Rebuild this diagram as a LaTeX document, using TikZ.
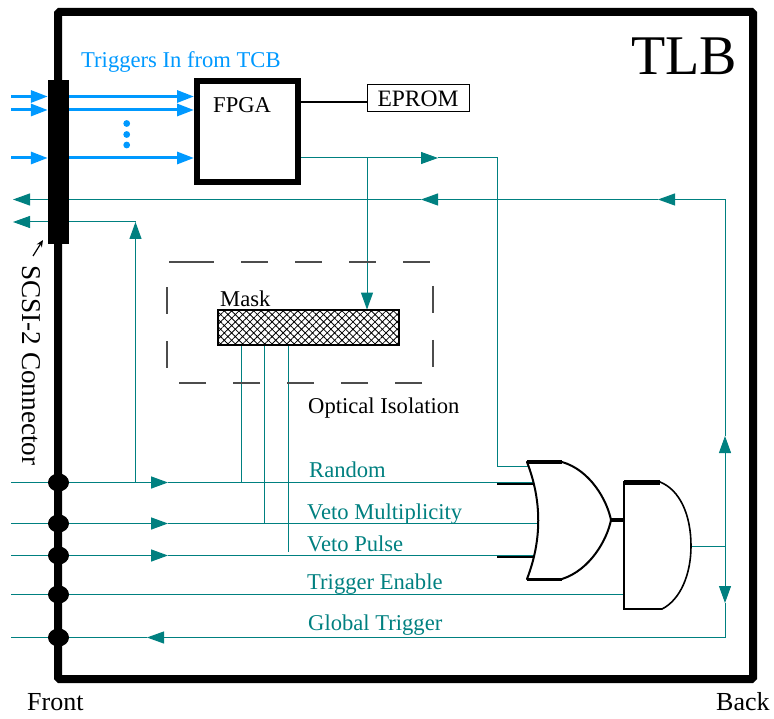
\documentclass[tikz,border=0pt]{standalone}
\usepackage{fontspec}
\setmainfont{Liberation Serif}
\usetikzlibrary{arrows.meta,patterns.meta,shapes.geometric,backgrounds}
\definecolor{sigteal}{HTML}{008080}
\definecolor{trigblue}{HTML}{0099FF}
\tikzset{
  wire/.style={sigteal,line width=1pt},
  wirefat/.style={sigteal,line width=1.5pt},
  tealtip/.style={-{Triangle[length=17pt,width=12pt]}},
  trig/.style={trigblue,line width=3pt,-{Triangle[length=17pt,width=12pt]}},
  lbl/.style={anchor=west,inner sep=0pt,font=\fontsize{22.6}{24}\selectfont},
  siglbl/.style={lbl,text=sigteal},
  jdot/.style={ellipse,fill=black,inner sep=0pt,minimum width=21pt,minimum height=18pt},
  gateline/.style={line width=2pt,fill=white,line join=round}
}
\begin{document}
\begin{tikzpicture}[x=1pt,y=-1pt]
  \useasboundingbox (0,0) rectangle (774,719);
  \node[draw,line width=8pt,rounded corners=1.5pt,minimum width=695pt,minimum height=667pt] (tlb) at (405.5,345.5) {};
  \node[fill=black,inner sep=0pt,minimum width=21pt,minimum height=164pt] (bar) at (58.5,162) {};
  \foreach \name/\yy in {random/482.5,multi/523.5,pulse/555.5,enable/594.5,global/637.5}{
    \node[jdot] (\name) at (58.5,\yy) {};
    \coordinate (\name-in) at (11,\yy);
  }
  \node[draw,line width=6pt,minimum size=101pt] (fpga) at (247.5,131.5) {};
  \node[draw,line width=1pt,inner sep=0pt,minimum width=102pt,minimum height=27pt,font=\fontsize{23.5}{24}\selectfont] (eprom) at (418,98.5) {EPROM};
  \node[draw,line width=1.2pt,minimum width=181pt,minimum height=35pt,
    pattern={Hatch[angle=45,distance=5.2pt,line width=0.8pt]}] (mask) at (308.5,327.5) {};

  \foreach \yy in {96.5,110,158}{
    \draw[trig] (11,\yy) -- (bar.west |- 0,\yy);
    \draw[trig] (bar.east |- 0,\yy) -- (fpga.west |- 0,\yy);
  }
  \foreach \yy in {123.5,134.5,145}{
    \fill[trigblue] (126.7,\yy) circle (3.4pt);
  }
  \coordinate (eprom-in) at (367,102);
  \draw[line width=1.2pt] (fpga.east |- eprom-in) -- (eprom-in);

  \draw[line width=1.2pt,black!70,dash pattern=on 27pt off 27pt] (187,262) -- (433,262) -- (433,383) -- (167,383) -- (167,262) -- (187,262);

  \coordinate (or-a) at (527,462);
  \coordinate (or-b) at (562,462);
  \coordinate (or-out) at (611,520);
  \coordinate (or-c) at (562,579);
  \coordinate (or-d) at (527,579);
  \coordinate (and-a) at (624,482);
  \coordinate (and-b) at (660,482);
  \coordinate (and-out) at (691,546);
  \coordinate (and-c) at (662,609);
  \coordinate (and-d) at (624,609);
  \coordinate (back-top) at (725,199.5);
  \coordinate (back-and) at (725,546);
  \coordinate (back-low) at (725,637.5);

  \begin{scope}[on background layer]
    \foreach \name in {random,multi,pulse}{
      \draw[wire] (\name-in) -- (\name);
      \draw[wirefat,tealtip] (\name) -- (168,0 |- \name);
      \draw[wire] (168,0 |- \name) -- (570,0 |- \name);
    }
    \draw[wire] (enable-in) -- (enable);
    \draw[wire] (enable) -- (and-a |- enable);
    \draw[wire] (global-in) -- (global);
    \draw[wire,tealtip] (back-low) -- (147,637.5);
    \draw[wire] (147,637.5) -- (global);

    \draw[wire,tealtip] (fpga.east |- 0,158) -- (438,158);
    \draw[wire] (438,158) -- (497,158) -- (497,466) -- (530,466);
    \draw[wire,tealtip] (367,158) -- (367,0 |- mask.north);

    \draw[wire,tealtip] (back-top) -- (658,199.5);
    \draw[wire,tealtip] (658,199.5) -- (421,199.5);
    \draw[wire,tealtip] (421,199.5) -- (13,199.5);
    \draw[wire,tealtip] (135.5,0 |- random) -- (135.5,222);
    \draw[wire,tealtip] (135.5,222) -- (13,222);

    \draw[wire,tealtip] (back-and) -- (725,436);
    \draw[wire] (725,436) -- (back-top);
    \draw[wire,tealtip] (back-and) -- (725,603);
    \draw[wire] (725,603) -- (back-low);
    \draw[wire] (back-and) -- (and-out);

    \draw[wire] (241.5,0 |- mask.south) -- (241.5,0 |- random);
    \draw[wire] (264.5,0 |- mask.south) -- (264.5,0 |- multi);
    \draw[wire] (288.5,0 |- mask.south) -- (288.5,552);
  \end{scope}

  \draw[line width=2.5pt] (497,484) -- (533,484);
  \draw[line width=2.5pt] (497,557) -- (535,557);
  \draw[gateline] (or-a) -- (or-b) .. controls (590,470) and (607,500) .. (or-out)
    .. controls (607,540) and (590,570) .. (or-c) -- (or-d)
    .. controls (542,540) and (542,501) .. cycle;
  \draw[line width=3.5pt] (or-a) -- (or-b);
  \draw[line width=3pt] (or-d) -- (or-c);
  \draw[line width=4pt] (or-out) -- (and-a |- or-out);
  \draw[line width=1.6pt,fill=white] (and-a) -- (and-b) .. controls (680,490) and (691,515) .. (and-out)
    .. controls (691,575) and (680,600) .. (and-c) -- (and-d) -- cycle;
  \draw[line width=5pt] (and-a) -- (and-b);
  \draw[line width=2.5pt] (and-d) -- (and-c);

  \node[anchor=west,inner sep=0pt,font=\fontsize{56}{60}\selectfont] (tlblbl) at (631,56) {TLB};
  \node[lbl,text=trigblue] (triglbl) at (81,62) {Triggers In from TCB};
  \node[lbl] (fpgalbl) at (213,105) {FPGA};
  \node[lbl] (masklbl) at (220,299) {Mask};
  \node[lbl] (isolbl) at (308,408) {Optical Isolation};
  \node[siglbl] (randlbl) at (309,470) {Random};
  \node[siglbl] (multilbl) at (307,514) {Veto Multiplicity};
  \node[siglbl] (pulselbl) at (307,544) {Veto Pulse};
  \node[siglbl] (enablbl) at (307,584) {Trigger Enable};
  \node[siglbl] (globlbl) at (308,625) {Global Trigger};
  \node[anchor=west,inner sep=0pt,font=\fontsize{26}{28}\selectfont] (frontlbl) at (27,702) {Front};
  \node[anchor=west,inner sep=0pt,font=\fontsize{26}{28}\selectfont] (backlbl) at (716,702) {Back};
  \node[anchor=west,inner sep=0pt,rotate=-90,font=\fontsize{27.2}{28}\selectfont] (scsilbl) at (31,265) {SCSI-2 Connector};
  \coordinate (scsi-tail) at (33,256);
  \coordinate (scsi-tip) at (43,240);
  \draw[line width=1.2pt,-{Stealth[length=7pt,width=6pt]}] (scsi-tail) -- (scsi-tip);
\end{tikzpicture}
\end{document}
